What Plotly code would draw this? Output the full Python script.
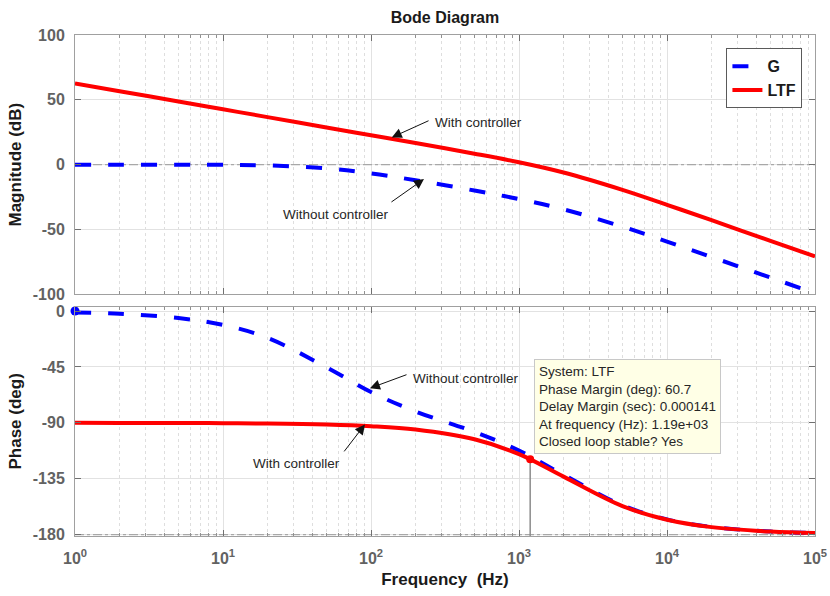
import numpy as np
import plotly.graph_objects as go

# ---- Frequency response samples ----
freq_hz = [1, 2, 5, 10, 20, 50, 100, 200, 500, 1000, 2000, 5000,
           10000, 20000, 50000, 100000]
g_mag_db = [0.0, -0.01, -0.04, -0.16, -0.60, -2.85, -6.73, -12.02, -19.95,
            -26.56, -34.46, -47.83, -59.34, -71.24, -87.12, -99.15]
ltf_mag_db = [62.70, 56.68, 48.72, 42.70, 36.68, 28.72, 22.69, 16.64, 8.48,
              1.83, -6.08, -19.45, -30.96, -42.86, -58.74, -70.77]
g_phase_deg = [-1.13, -2.26, -5.63, -11.16, -21.58, -45.23, -65.23, -80.82,
               -97.32, -112.26, -131.83, -156.41, -167.72, -173.80, -177.51,
               -178.75]
ltf_phase_deg = [-90.03, -90.05, -90.14, -90.27, -90.54, -91.35, -92.70,
                 -95.39, -103.26, -115.24, -133.32, -157.01, -168.02, -173.95,
                 -177.57, -178.78]

# ---- Stability margin read-out ----
phase_margin_deg = 60.7
delay_margin_sec = "0.000141"
crossover_hz = 1.19e3
datatip_lines = [
    "System: LTF",
    f"Phase Margin (deg): {phase_margin_deg}",
    f"Delay Margin (sec): {delay_margin_sec}",
    f"At frequency (Hz): {crossover_hz:.2e}",
    "Closed loop stable? Yes",
]

# ---- Axis ticks ----
freq_tickvals = [1, 10, 100, 1000, 10000, 100000]
freq_ticktext = ["10<sup>0</sup>", "10<sup>1</sup>", "10<sup>2</sup>",
                 "10<sup>3</sup>", "10<sup>4</sup>", "10<sup>5</sup>"]
minor_freq = [m * 10 ** d for d in range(5) for m in range(2, 10)]
mag_tickvals = [-100, -50, 0, 50, 100]
mag_ticktext = ["-100", "-50", "0", "50", "100"]
phase_tickvals = [-180, -135, -90, -45, 0]
phase_ticktext = ["-180", "-135", "-90", "-45", "0"]

FONT = "Liberation Sans, Arial, Helvetica, sans-serif"
BLUE = "#0000ff"
RED = "#ff0000"
GRID = "#e2e2e2"
MINOR = "#dedede"
AXLINE = "#a0a0a0"
TICKFONT = dict(family=FONT, size=16, color="#626262", weight="bold")
TITLEFONT = dict(family=FONT, size=17, color="#1a1a1a", weight="bold")

fig = go.Figure()

# reference lines: 0 dB and -180 deg
fig.add_trace(go.Scatter(x=[freq_hz[0], freq_hz[-1]], y=[0, 0], mode="lines",
                         line=dict(color="#a8a8a8", width=1.2, dash="dashdot"),
                         xaxis="x", yaxis="y", showlegend=False, hoverinfo="skip"))
fig.add_trace(go.Scatter(x=[freq_hz[0], freq_hz[-1]], y=[-180, -180], mode="lines",
                         line=dict(color="#a8a8a8", width=1.2, dash="dashdot"),
                         xaxis="x2", yaxis="y2", showlegend=False, hoverinfo="skip"))

# magnitude
fig.add_trace(go.Scatter(x=freq_hz, y=g_mag_db, mode="lines", name="G",
                         line=dict(color=BLUE, width=4, dash="16px,17px", shape="spline"),
                         xaxis="x", yaxis="y"))
fig.add_trace(go.Scatter(x=freq_hz, y=ltf_mag_db, mode="lines", name="LTF",
                         line=dict(color=RED, width=4, shape="spline"),
                         xaxis="x", yaxis="y"))

# phase
fig.add_trace(go.Scatter(x=freq_hz, y=g_phase_deg, mode="lines", name="G",
                         line=dict(color=BLUE, width=4, dash="16px,17px", shape="spline"),
                         xaxis="x2", yaxis="y2", showlegend=False))
fig.add_trace(go.Scatter(x=freq_hz, y=ltf_phase_deg, mode="lines", name="LTF",
                         line=dict(color=RED, width=4, shape="spline"),
                         xaxis="x2", yaxis="y2", showlegend=False))

# G start marker
fig.add_trace(go.Scatter(x=[freq_hz[0]], y=[0], mode="markers",
                         marker=dict(color=BLUE, size=9),
                         xaxis="x2", yaxis="y2", showlegend=False, cliponaxis=False))

# phase-margin point and drop line
pm_phase = -180 + phase_margin_deg
fig.add_trace(go.Scatter(x=[crossover_hz, crossover_hz], y=[pm_phase, -181.1],
                         mode="lines", line=dict(color="#8c8c8c", width=1.5),
                         xaxis="x2", yaxis="y2", showlegend=False))
fig.add_trace(go.Scatter(x=[crossover_hz], y=[pm_phase], mode="markers",
                         marker=dict(color=RED, size=8),
                         xaxis="x2", yaxis="y2", showlegend=False))

xcommon = dict(type="log", range=[0, 5], tickvals=freq_tickvals,
               ticks="inside", ticklen=6, tickcolor="#707070",
               showline=True, linecolor=AXLINE, linewidth=1, mirror="ticks",
               showgrid=True, gridcolor=GRID, gridwidth=1, zeroline=False,
               automargin=False,
               minor=dict(tickvals=minor_freq, ticks="inside", ticklen=3,
                          tickcolor="#909090", showgrid=True,
                          gridcolor=MINOR, griddash="dot", gridwidth=1))
ycommon = dict(ticks="inside", ticklen=6, tickcolor="#707070",
               showline=True, linecolor=AXLINE, linewidth=1, mirror="ticks",
               showgrid=True, gridcolor=GRID, gridwidth=1, zeroline=False,
               automargin=False, tickfont=TICKFONT, ticklabelstandoff=6)

fig.update_layout(
    width=830, height=596,
    margin=dict(l=75, r=15, t=35, b=60, autoexpand=False),
    paper_bgcolor="white", plot_bgcolor="white",
    font=dict(family=FONT),
    title=dict(text="<b>Bode Diagram</b>", x=0.5, xref="paper", xanchor="center",
               y=1 - 17 / 596, yref="container", yanchor="middle",
               font=dict(family=FONT, size=16, color="#1a1a1a")),
    xaxis=dict(**xcommon, anchor="y", domain=[0, 1], showticklabels=False),
    xaxis2=dict(**xcommon, anchor="y2", domain=[0, 1], matches="x",
                ticktext=freq_ticktext, tickfont=TICKFONT, ticklabelstandoff=8,
                title=dict(text="Frequency\u00a0 (Hz)", font=TITLEFONT, standoff=6)),
    yaxis=dict(**ycommon, anchor="x", domain=[0.4824, 1], range=[-100, 100],
               tickvals=mag_tickvals, ticktext=mag_ticktext,
               title=dict(text="Magnitude (dB)", font=TITLEFONT, standoff=6)),
    yaxis2=dict(**ycommon, anchor="x2", domain=[0, 0.4577], range=[-181.1, 3.5],
                tickvals=phase_tickvals, ticktext=phase_ticktext,
                title=dict(text="Phase (deg)", font=TITLEFONT, standoff=6)),
    legend=dict(x=0.983, xanchor="right", y=0.9735, yanchor="top",
                xref="paper", yref="paper",
                bgcolor="white", bordercolor="#5a5a5a", borderwidth=1,
                font=dict(family=FONT, size=16, color="#1a1a1a", weight="bold"),
                itemwidth=30, tracegroupgap=0),
)

ANN_FONT = dict(family=FONT, size=13.5, color="#262626")


def arrow(xref, yref, tip_f, tip_v, tail_f, tail_v):
    fig.add_annotation(x=np.log10(tip_f), y=tip_v, ax=np.log10(tail_f), ay=tail_v,
                       xref=xref, yref=yref, axref=xref, ayref=yref, text="",
                       showarrow=True, arrowhead=2, arrowsize=2, arrowwidth=1,
                       arrowcolor="#111111")


def label(xref, yref, f, v, txt):
    fig.add_annotation(x=np.log10(f), y=v, xref=xref, yref=yref, text=txt,
                       showarrow=False, font=ANN_FONT, xanchor="center",
                       yanchor="middle")


# magnitude annotations
arrow("x", "y", 10 ** 2.140, 21.0, 10 ** 2.399, 34.4)
label("x", "y", 10 ** 2.723, 32.9, "With controller")
arrow("x", "y", 10 ** 2.358, -11.1, 10 ** 2.128, -29.6)
label("x", "y", 10 ** 1.764, -38.8, "Without controller")

# phase annotations
arrow("x2", "y2", 10 ** 1.993, -62.1, 10 ** 2.250, -50.8)
label("x2", "y2", 10 ** 2.642, -54.0, "Without controller")
arrow("x2", "y2", 10 ** 1.959, -91.3, 10 ** 1.811, -114.2)
label("x2", "y2", 10 ** 1.497, -123.1, "With controller")

# margin data tip
fig.add_annotation(x=np.log10(crossover_hz), y=pm_phase, xref="x2", yref="y2",
                   text="<br>".join(datatip_lines), showarrow=False,
                   xanchor="left", yanchor="bottom", align="left",
                   xshift=4, yshift=5, font=ANN_FONT,
                   bgcolor="#ffffe6", bordercolor="#c8c8c8", borderwidth=1,
                   borderpad=4)

fig.write_html("out.html")
